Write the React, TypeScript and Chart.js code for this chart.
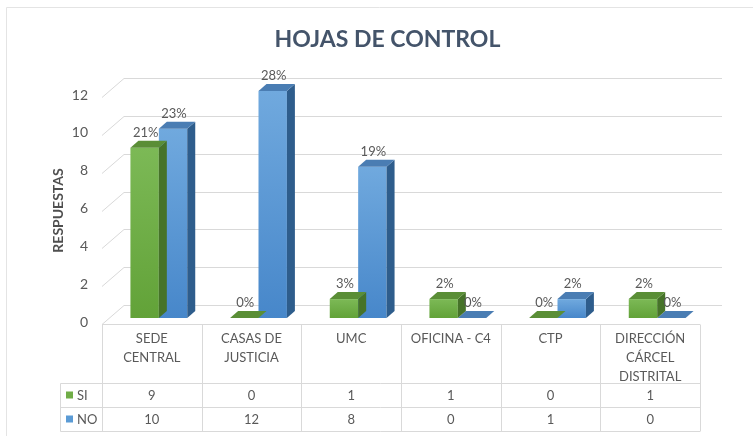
import React, { useEffect, useRef } from "react";
import { Chart, registerables } from "chart.js";

Chart.register(...registerables);

// ---- data ----
const chartTitle = "HOJAS DE CONTROL";
const yAxisTitle = "RESPUESTAS";
const categories: string[][] = [
  ["SEDE", "CENTRAL"],
  ["CASAS DE", "JUSTICIA"],
  ["UMC"],
  ["OFICINA - C4"],
  ["CTP"],
  ["DIRECCIÓN", "CÁRCEL", "DISTRITAL"],
];
const seriesNames = ["SI", "NO"];
const siValues = [9, 0, 1, 1, 0, 1];
const noValues = [10, 12, 8, 0, 1, 0];
const siLabels = ["21%", "0%", "3%", "2%", "0%", "2%"];
const noLabels = ["23%", "28%", "19%", "0%", "2%", "0%"];
const yMin = 0;
const yMax = 12;
const yStep = 2;

// ---- styles ----
const FONT = "Lato, 'Open Sans', sans-serif";
const TEXT = "#595959";
const GRID = "#D9D9D9";
const BAR_DEPTH = { dx: 8, dy: -7 };
const FRONT = { dx: -7, dy: 6 }; // front plane relative to bar plane
const BACK = { dx: 15, dy: -13 }; // back wall relative to bar plane
const palette = [
  { top: "#7CB956", bottom: "#62A238", cap: "#5A8E36", side: "#467329", legend: "#70AD47" },
  { top: "#70A9DE", bottom: "#4787CA", cap: "#4A7DB3", side: "#2E5D8C", legend: "#5B9BD5" },
];
const allLabels = [siLabels, noLabels];

function frontGradient(c: any, idx: number) {
  const p = palette[idx];
  const chart = c.chart;
  if (c.type !== "data" || !chart.chartArea || !chart.scales.y) return p.bottom;
  const ys = chart.scales.y;
  const y = ys.getPixelForValue(c.parsed ? c.parsed.y : 0);
  const b = ys.getPixelForValue(0);
  if (b - y < 1) return p.bottom;
  const g = chart.ctx.createLinearGradient(0, y, 0, b);
  g.addColorStop(0, p.top);
  g.addColorStop(1, p.bottom);
  return g;
}

const threeD = {
  id: "threeD",
  beforeDraw(chart: any) {
    const { ctx, width, height } = chart;
    ctx.save();
    ctx.fillStyle = "#ffffff";
    ctx.fillRect(0, 0, width, height);
    ctx.strokeStyle = "#E4E4E4";
    ctx.lineWidth = 1;
    ctx.beginPath();
    ctx.moveTo(6.5, height);
    ctx.lineTo(6.5, 7.5);
    ctx.lineTo(width, 7.5);
    ctx.stroke();
    // title
    ctx.fillStyle = "#44546A";
    ctx.font = `bold 23px ${FONT}`;
    ctx.textAlign = "center";
    ctx.textBaseline = "alphabetic";
    ctx.fillText(chartTitle, 387.5, 47);
    ctx.restore();
  },
  beforeDatasetsDraw(chart: any) {
    const { ctx, chartArea: ca } = chart;
    const ys = chart.scales.y;
    const fl = ca.left + FRONT.dx;
    const bl = ca.left + BACK.dx;
    const br = ca.right + BACK.dx;
    ctx.save();
    ctx.strokeStyle = GRID;
    ctx.lineWidth = 1;
    ctx.beginPath();
    for (const t of ys.ticks) {
      const py = ys.getPixelForValue(t.value);
      ctx.moveTo(fl, Math.round(py + FRONT.dy) + 0.5);
      ctx.lineTo(bl, Math.round(py + BACK.dy) + 0.5);
      ctx.lineTo(br, Math.round(py + BACK.dy) + 0.5);
    }
    ctx.stroke();
    // axis title
    ctx.fillStyle = "#4F4F4F";
    ctx.font = `bold 14px ${FONT}`;
    ctx.textAlign = "center";
    ctx.textBaseline = "middle";
    ctx.translate(58, (ys.top + ys.bottom) / 2 + FRONT.dy);
    ctx.rotate(-Math.PI / 2);
    ctx.fillText(yAxisTitle, 0, 0);
    ctx.restore();
  },
  afterDatasetDraw(chart: any, args: any) {
    const { ctx } = chart;
    const p = palette[args.index];
    ctx.save();
    for (const el of args.meta.data) {
      const { x, y, base, width } = el.getProps(["x", "y", "base", "width"], true);
      const l = x - width / 2;
      const r = x + width / 2;
      // side face
      if (base - y > 0.5) {
        ctx.fillStyle = p.side;
        ctx.beginPath();
        ctx.moveTo(r, y);
        ctx.lineTo(r + BAR_DEPTH.dx, y + BAR_DEPTH.dy);
        ctx.lineTo(r + BAR_DEPTH.dx, base + BAR_DEPTH.dy);
        ctx.lineTo(r, base);
        ctx.closePath();
        ctx.fill();
      }
      // top face
      ctx.fillStyle = p.cap;
      ctx.beginPath();
      ctx.moveTo(l, y);
      ctx.lineTo(l + BAR_DEPTH.dx, y + BAR_DEPTH.dy);
      ctx.lineTo(r + BAR_DEPTH.dx, y + BAR_DEPTH.dy);
      ctx.lineTo(r, y);
      ctx.closePath();
      ctx.fill();
    }
    ctx.restore();
  },
  afterDatasetsDraw(chart: any) {
    const { ctx, chartArea: ca } = chart;
    const xs = chart.scales.x;
    const ys = chart.scales.y;
    ctx.save();
    // value labels
    ctx.font = `13px ${FONT}`;
    ctx.fillStyle = TEXT;
    ctx.textAlign = "center";
    ctx.textBaseline = "middle";
    chart.data.datasets.forEach((ds: any, di: number) => {
      const meta = chart.getDatasetMeta(di);
      meta.data.forEach((el: any, i: number) => {
        const { x, y } = el.getProps(["x", "y"], true);
        ctx.fillText(allLabels[di][i], x + 1, y - 15);
      });
    });

    // data table
    const n = categories.length;
    const fl = ca.left + FRONT.dx;
    const fr = ca.right + FRONT.dx;
    const colW = (fr - fl) / n;
    const top = Math.round(ys.getPixelForValue(0) + FRONT.dy) + 0.5;
    const headerBottom = top + 59;
    const rowH = 24;
    const legendLeft = 60.5;
    const bottom = headerBottom + rowH * 2;
    ctx.strokeStyle = GRID;
    ctx.lineWidth = 1;
    ctx.beginPath();
    ctx.moveTo(fl, top);
    ctx.lineTo(fr, top);
    for (let r = 0; r <= 2; r++) {
      const yy = headerBottom + r * rowH;
      ctx.moveTo(legendLeft, yy);
      ctx.lineTo(fr, yy);
    }
    ctx.moveTo(legendLeft, headerBottom);
    ctx.lineTo(legendLeft, bottom);
    for (let i = 0; i <= n; i++) {
      const xx = Math.round(fl + i * colW) + 0.5;
      ctx.moveTo(xx, top);
      ctx.lineTo(xx, bottom);
    }
    ctx.stroke();

    ctx.fillStyle = TEXT;
    ctx.font = `13px ${FONT}`;
    ctx.textAlign = "center";
    ctx.textBaseline = "middle";
    categories.forEach((lines, i) => {
      const cx = xs.getPixelForValue(i) + FRONT.dx;
      lines.forEach((ln, k) => ctx.fillText(ln, cx, top + 14 + k * 19));
    });
    const series = [siValues, noValues];
    series.forEach((vals, r) => {
      const cy = headerBottom + r * rowH + rowH / 2;
      vals.forEach((v, i) => {
        const cx = xs.getPixelForValue(i) + FRONT.dx;
        ctx.fillText(String(v), cx, cy);
      });
      ctx.fillStyle = palette[r].legend;
      ctx.fillRect(66, cy - 4, 7, 7);
      ctx.fillStyle = TEXT;
      ctx.textAlign = "left";
      ctx.fillText(seriesNames[r], 77, cy);
      ctx.textAlign = "center";
    });
    ctx.restore();
  },
};

export default function App() {
  const ref = useRef<HTMLCanvasElement>(null);
  useEffect(() => {
    const canvas = ref.current;
    if (!canvas) return;
    const chart = new Chart(canvas, {
      type: "bar",
      data: {
        labels: categories.map((c) => c.join(" ")),
        datasets: [
          {
            label: seriesNames[0],
            data: siValues,
            backgroundColor: (c: any) => frontGradient(c, 0),
            categoryPercentage: 0.57,
            barPercentage: 1,
          },
          {
            label: seriesNames[1],
            data: noValues,
            backgroundColor: (c: any) => frontGradient(c, 1),
            categoryPercentage: 0.57,
            barPercentage: 1,
          },
        ],
      },
      options: {
        responsive: false,
        animation: false,
        devicePixelRatio: 1,
        events: [],
        layout: { padding: { left: 0, right: 46, top: 91, bottom: 118 } },
        plugins: {
          legend: { display: false },
          title: { display: false },
          tooltip: { enabled: false },
        },
        scales: {
          x: { display: false },
          y: {
            min: yMin,
            max: yMax,
            afterFit: (scale: any) => {
              scale.width = 109;
            },
            grid: { display: false, drawTicks: false },
            border: { display: false },
            ticks: {
              stepSize: yStep,
              padding: 21,
              labelOffset: 4,
              color: TEXT,
              font: { family: FONT, size: 14 },
            },
          },
        },
      },
      plugins: [threeD],
    } as any);
    return () => chart.destroy();
  }, []);
  return (
    <div style={{ position: "absolute", left: 0, top: 0, width: 753, height: 436 }}>
      <canvas ref={ref} width={753} height={436} style={{ display: "block" }} />
    </div>
  );
}
